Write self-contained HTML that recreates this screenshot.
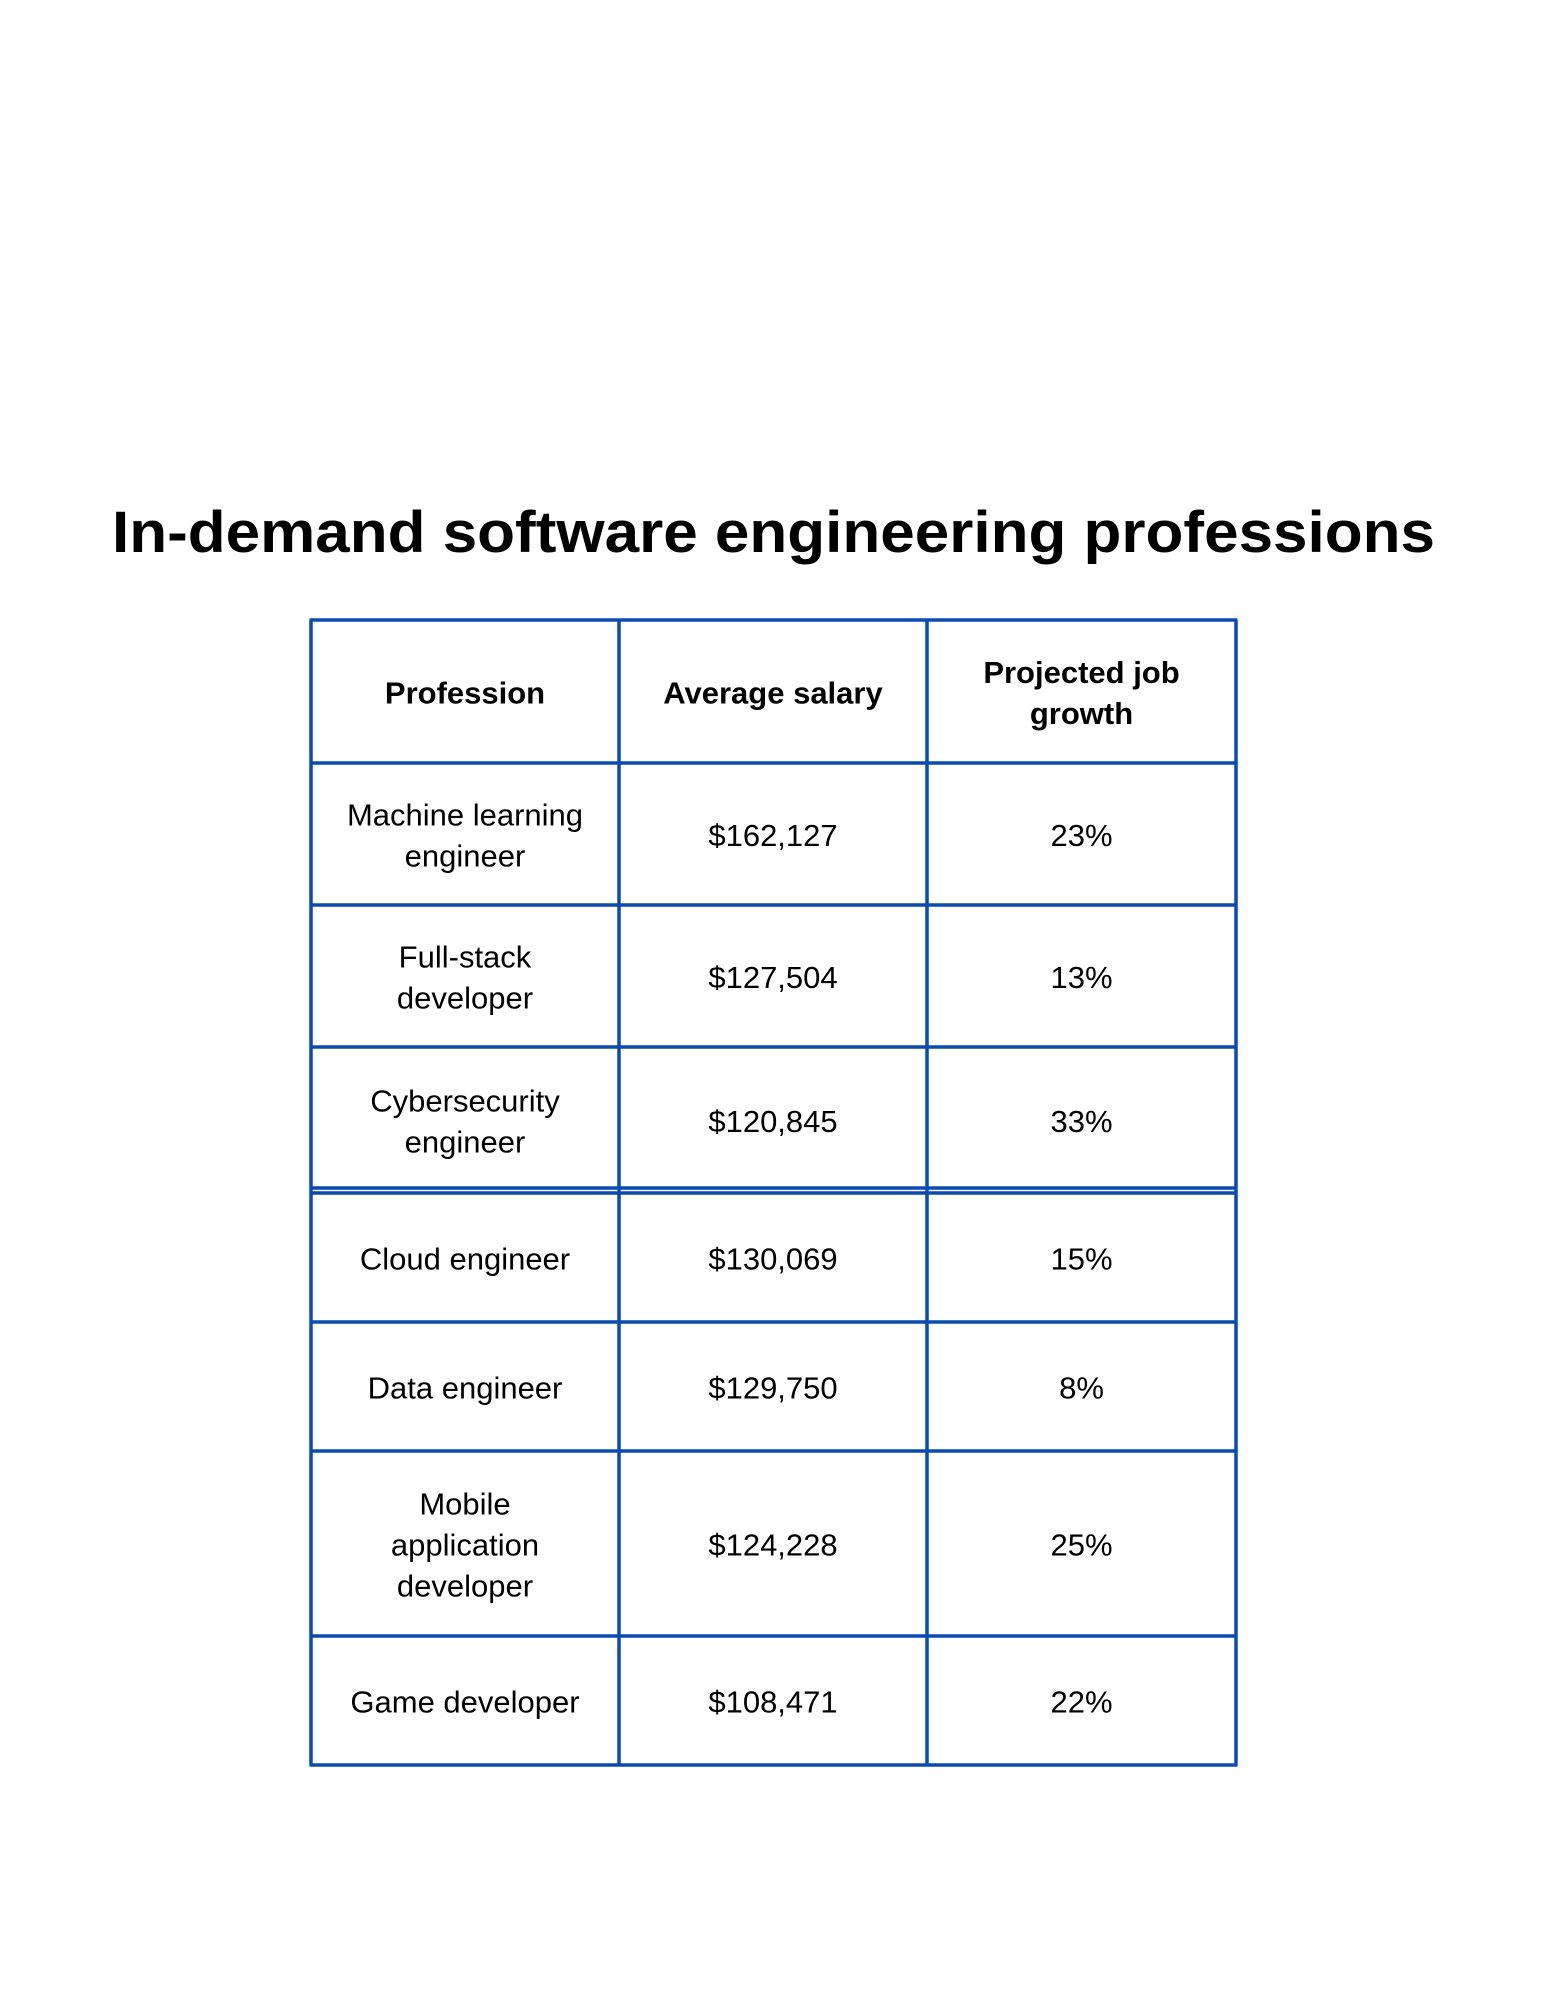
<!DOCTYPE html>
<html><head><meta charset="utf-8"><style>
html,body{margin:0;padding:0;background:#fff;}
svg{display:block;font-family:"Liberation Sans",sans-serif;}
</style></head><body>
<svg width="1545" height="2000" viewBox="0 0 1545 2000">
<text x="112" y="552" font-size="58" font-weight="bold" textLength="1323" lengthAdjust="spacingAndGlyphs" fill="#000">In-demand software engineering professions</text>
<g id="grid" stroke="#0a4bb0" stroke-width="3.5" fill="none"></g>
<g id="cells" font-size="31" fill="#000" text-anchor="middle"></g>
</svg>
<script>
const xs=[311,619,927,1236];
const rowsY=[620,763,905,1047,1193,1322,1451,1636,1765];
const header=[["Profession"],["Average salary"],["Projected job","growth"]];
const professions=[["Machine learning","engineer"],["Full-stack","developer"],["Cybersecurity","engineer"],["Cloud engineer"],["Data engineer"],["Mobile","application","developer"],["Game developer"]];
const salaries=["$162,127","$127,504","$120,845","$130,069","$129,750","$124,228","$108,471"];
const growth=["23%","13%","33%","15%","8%","25%","22%"];
const NS="http://www.w3.org/2000/svg";
const g=document.getElementById('grid');
function line(x1,y1,x2,y2,name){const l=document.createElementNS(NS,'line');l.setAttribute('x1',x1);l.setAttribute('y1',y1);l.setAttribute('x2',x2);l.setAttribute('y2',y2);


g.appendChild(l);}
rowsY.forEach((y,i)=>{line(xs[0]-1.5,y,xs[3]+1.5,y,'row-border');if(i===4)line(xs[0]-1.5,y-5,xs[3]+1.5,y-5,'row-border');});
xs.forEach(x=>line(x,rowsY[0],x,rowsY[8],'column-border'));
const c=document.getElementById('cells');
function cell(lines,col,row,bold,name){
const cx=(xs[col]+xs[col+1])/2, cy=(rowsY[row]+rowsY[row+1])/2;
const t=document.createElementNS(NS,'text');


if(bold)t.setAttribute('font-weight','bold');
const lh=41;
lines.forEach((s,k)=>{const sp=document.createElementNS(NS,'tspan');sp.setAttribute('x',cx);sp.setAttribute('y',cy+(k-(lines.length-1)/2)*lh+12);sp.textContent=s;t.appendChild(sp);});
c.appendChild(t);}
header.forEach((h,i)=>cell(h,i,0,true,'header-cell'));
professions.forEach((p,i)=>{cell(p,0,i+1,false,'profession-cell');cell([salaries[i]],1,i+1,false,'salary-cell');cell([growth[i]],2,i+1,false,'growth-cell');});
</script>
</body></html>
